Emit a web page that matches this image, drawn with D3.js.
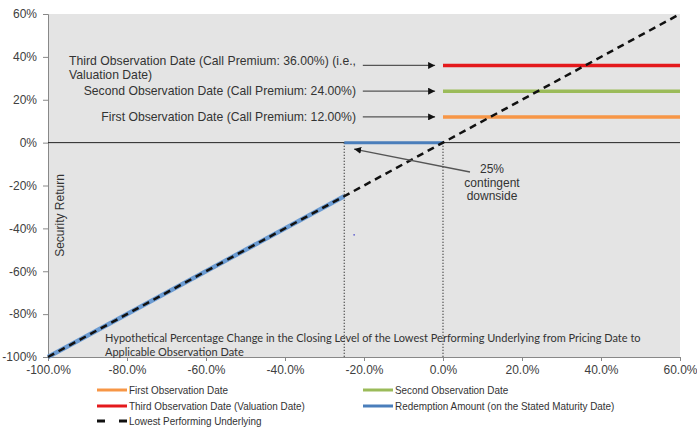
<!DOCTYPE html>
<html><head><meta charset="utf-8">
<script src="https://cdn.jsdelivr.net/npm/d3@7/dist/d3.min.js"></script>
<style>
html,body{margin:0;padding:0;background:#fff;}
svg{display:block;}
</style></head>
<body>
<script>
// ---- data ----
const xTicks = [-100, -80, -60, -40, -20, 0, 20, 40, 60];
const yTicks = [-100, -80, -60, -40, -20, 0, 20, 40, 60];
const observationNames = ["First Observation Date", "Second Observation Date", "Third Observation Date (Valuation Date)"];
const callPremiums = [12, 24, 36];
const observationColors = ["#f79646", "#9bbb59", "#e4191c"];
const underlyingX = [-100, 60];
const underlyingY = [-100, 60];
const downsideX = [-100, -25];
const downsideY = [-100, -25];
const redemptionX = [-25, 0];
const redemptionY = [0, 0];
const barrier = -25;
const annotationTexts = [
  ["First Observation Date (Call Premium: 12.00%)"],
  ["Second Observation Date (Call Premium: 24.00%)"],
  ["Third Observation Date (Call Premium: 36.00%) (i.e.,", "Valuation Date)"]
];
const contingentText = ["25%", "contingent", "downside"];
const xTitle = ["Hypothetical Percentage Change in the Closing Level of the Lowest Performing Underlying from Pricing Date to", "Applicable Observation Date"];

// ---- layout ----
const W = 697, H = 428;
const m = {left: 48, right: 680, top: 14, bottom: 357};
const x = d3.scaleLinear().domain([-100, 60]).range([m.left, m.right]);
const y = d3.scaleLinear().domain([-100, 60]).range([m.bottom, m.top]);

const svg = d3.select("body").append("svg").attr("width", W).attr("height", H);
const defs = svg.append("defs");
defs.append("marker").attr("id", "ah").attr("viewBox", "0 0 10 10").attr("refX", 10).attr("refY", 5)
  .attr("markerWidth", 7).attr("markerHeight", 7).attr("markerUnits", "userSpaceOnUse").attr("orient", "auto")
  .append("path").attr("d", "M0,0 L10,5 L0,10 Z").attr("fill", "#111");

svg.append("rect").attr("x", m.left).attr("y", m.top).attr("width", m.right - m.left).attr("height", m.bottom - m.top)
  .attr("fill", "#e4e4e4");

const font = "'Liberation Sans', Arial, sans-serif";

// y axis
const yAxis = d3.axisLeft(y).tickValues(yTicks).tickFormat(d => d + "%").tickSize(5).tickPadding(6);
const gy = svg.append("g").attr("transform", `translate(${m.left},0)`).call(yAxis);
gy.select(".domain").attr("stroke", "#888");
gy.selectAll(".tick line").attr("stroke", "#888");
gy.selectAll("text").attr("font-family", font).attr("font-size", 12).attr("fill", "#404040");

// x axis
const xAxis = d3.axisBottom(x).tickValues(xTicks).tickFormat(d => d.toFixed(1) + "%").tickSize(4).tickPadding(4);
const gx = svg.append("g").attr("transform", `translate(0,${m.bottom})`).call(xAxis);
gx.select(".domain").attr("stroke", "#888");
gx.selectAll(".tick line").attr("stroke", "#888");
gx.selectAll("text").attr("font-family", font).attr("font-size", 12).attr("fill", "#404040");

// zero line
svg.append("line").attr("x1", x(-100)).attr("x2", x(60)).attr("y1", y(0)).attr("y2", y(0))
  .attr("stroke", "#222").attr("stroke-width", 1);

// dotted verticals
[barrier, 0].forEach(v => {
  svg.append("line").attr("x1", x(v)).attr("x2", x(v)).attr("y1", y(0)).attr("y2", m.bottom)
    .attr("stroke", "#222").attr("stroke-width", 1.2).attr("stroke-dasharray", "1.2,1.8");
});

// x title
const xt = svg.append("text").attr("font-family", "Lato, 'Open Sans', sans-serif").attr("font-size", 11).attr("fill", "#333");
xTitle.forEach((t, i) => {
  xt.append("tspan").attr("x", 105).attr("y", 342 + i * 14).text(t);
});

// security return
svg.append("text").attr("transform", `translate(64,${y(-34)}) rotate(-90)`).attr("text-anchor", "middle")
  .attr("font-family", font).attr("font-size", 12).attr("fill", "#333").text("Security Return");

const line = d3.line().x(d => x(d[0])).y(d => y(d[1]));

// downside blue under dashed
svg.append("path").datum(d3.zip(downsideX, downsideY)).attr("d", line).attr("fill", "none")
  .attr("stroke", "#6b9bd2").attr("stroke-width", 4.5);
// redemption
svg.append("path").datum(d3.zip(redemptionX, redemptionY)).attr("d", line).attr("fill", "none")
  .attr("stroke", "#4a7ebb").attr("stroke-width", 3);

// observation lines
callPremiums.forEach((p, i) => {
  svg.append("path").datum([[0, p], [60, p]]).attr("d", line).attr("fill", "none")
    .attr("stroke", observationColors[i]).attr("stroke-width", 3.5);
});

// underlying dashed
svg.append("path").datum(d3.zip(underlyingX, underlyingY)).attr("d", line).attr("fill", "none")
  .attr("stroke", "#111").attr("stroke-width", 2.5).attr("stroke-dasharray", "7,5");

// annotations
const annotArrowStart = -20.3, annotArrowEnd = -2;
callPremiums.forEach((p, i) => {
  svg.append("line").attr("x1", x(annotArrowStart)).attr("x2", x(annotArrowEnd)).attr("y1", y(p)).attr("y2", y(p))
    .attr("stroke", "#555").attr("stroke-width", 1.3).attr("marker-end", "url(#ah)");
});
const annotY = [y(12) + 4, y(24) + 4, y(36)];
annotationTexts.forEach((lines, i) => {
  lines.forEach((s, j) => {
    const t = svg.append("text").attr("font-family", font).attr("font-size", 12.2).attr("fill", "#333")
      .attr("y", annotY[i] + j * 14).text(s);
    if (i === 2) {
      t.attr("x", 69);
      if (j === 0) t.attr("textLength", 287).attr("lengthAdjust", "spacing");
    } else t.attr("x", 356).attr("text-anchor", "end");
  });
});

// contingent arrow
svg.append("line").attr("x1", 470).attr("y1", 172).attr("x2", x(-22.5)).attr("y2", y(-3))
  .attr("stroke", "#555").attr("stroke-width", 1.3).attr("marker-end", "url(#ah)");
const ct = svg.append("text").attr("font-family", font).attr("font-size", 12).attr("fill", "#333").attr("text-anchor", "middle");
contingentText.forEach((s, j) => ct.append("tspan").attr("x", 492).attr("y", 173 + j * 13.5).text(s));

// stray dot
svg.append("circle").attr("cx", x(-22.5)).attr("cy", y(-43)).attr("r", 0.9).attr("fill", "#6060d0");

// legend
const legend = [
  {name: observationNames[0], color: observationColors[0], lx: 97, ly: 390},
  {name: observationNames[1], color: observationColors[1], lx: 363, ly: 390},
  {name: observationNames[2], color: observationColors[2], lx: 97, ly: 406},
  {name: "Redemption Amount (on the Stated Maturity Date)", color: "#4a7ebb", lx: 363, ly: 406},
  {name: "Lowest Performing Underlying", color: "#111", lx: 97, ly: 421, dash: true}
];
legend.forEach(l => {
  svg.append("line").attr("x1", l.lx).attr("x2", l.lx + 30).attr("y1", l.ly).attr("y2", l.ly)
    .attr("stroke", l.color).attr("stroke-width", 3)
    .attr("stroke-dasharray", l.dash ? "8,14" : null);
  const t = svg.append("text").attr("x", l.lx + 32).attr("y", l.ly + 4).attr("font-family", font).attr("font-size", 11.5)
    .attr("fill", "#333").text(l.name);
  const w = t.node().getComputedTextLength();
  t.attr("textLength", w * 0.86).attr("lengthAdjust", "spacingAndGlyphs");
});
</script>
</body></html>
